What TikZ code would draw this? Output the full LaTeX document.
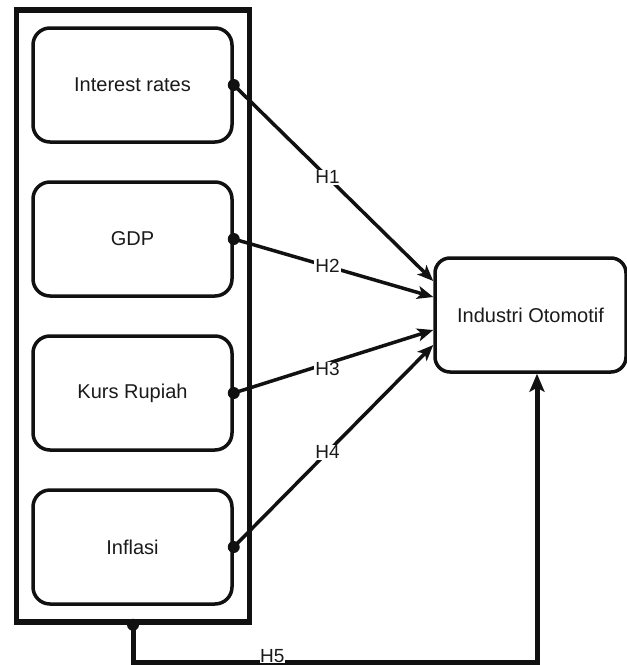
\documentclass[tikz,border=0pt]{standalone}
\usepackage{fontspec}
\setmainfont{Liberation Sans}
\usetikzlibrary{arrows.meta}
\definecolor{ink}{HTML}{111111}
\definecolor{txt}{HTML}{1a1a1a}
\begin{document}
\begin{tikzpicture}[x=1pt,y=-1pt,
  inbox/.style={draw=ink, line width=3.5pt, rounded corners=17pt, minimum width=199pt, minimum height=114pt,
    font=\fontsize{20}{24}\selectfont, text=txt, inner sep=0pt},
  outerbox/.style={draw=ink, line width=5.5pt, minimum width=233pt, minimum height=612pt, inner sep=0pt},
  dotnode/.style={circle, fill=ink, inner sep=0pt, minimum size=12pt},
  conn/.style={draw=ink, line width=3.5pt, -{Stealth[length=16pt,width=13pt,inset=4pt]}},
  conn5/.style={draw=ink, line width=5pt, -{Stealth[length=18pt,width=15pt,inset=4pt]}},
  lbl/.style={fill=white, inner sep=1pt, font=\fontsize{19}{22}\selectfont, text=txt}
]
\useasboundingbox (0,0) rectangle (627,665);

\node[outerbox] (outer) at (133,316) {};

\node[inbox] (b1) at (132.5,85) {Interest rates};
\node[inbox] (b2) at (132.5,239) {GDP};
\node[inbox] (b3) at (132.5,393) {Kurs Rupiah};
\node[inbox] (b4) at (132.5,547) {Inflasi};

\node[inbox, minimum width=191pt, rounded corners=15pt] (ind) at (530.5,315) {Industri Otomotif};

\node[dotnode] (d1) at (b1.east) {};
\node[dotnode] (d2) at (b2.east) {};
\node[dotnode] (d3) at (b3.east) {};
\node[dotnode] (d4) at (b4.east) {};
\node[dotnode] (d5) at (outer.south) {};

\draw[conn] (d1.center) -- node[lbl, pos=0.47] {H1} ([yshift=34pt]ind.west);
\draw[conn] (d2.center) -- node[lbl, pos=0.47] {H2} ([yshift=18pt]ind.west);
\draw[conn] (d3.center) -- node[lbl, pos=0.47, yshift=-6pt] {H3} ([yshift=-15pt]ind.west);
\draw[conn] (d4.center) -- node[lbl, pos=0.47] {H4} ([yshift=-30pt]ind.west);

\coordinate (c1) at (133,662);
\coordinate (c2) at (537,662);
\draw[conn5] (d5.center) -- (c1) -- node[lbl, pos=0.345, yshift=6pt, inner sep=0.5pt] {H5} (c2) -- (c2 |- ind.south);
\end{tikzpicture}
\end{document}
